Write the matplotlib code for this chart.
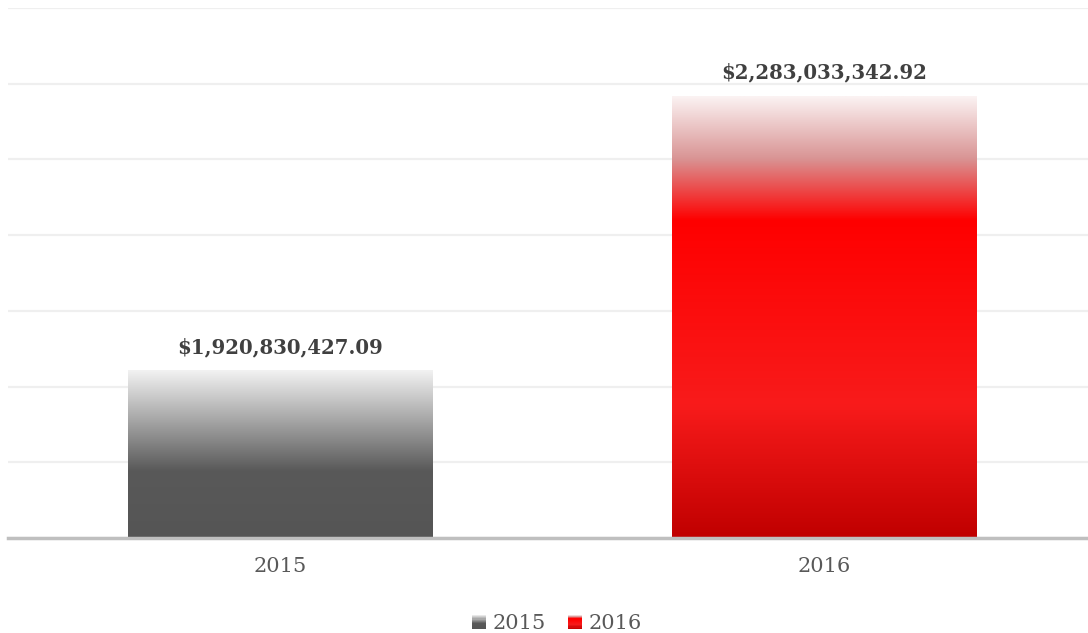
import numpy as np
import matplotlib
matplotlib.use("Agg")
import matplotlib.pyplot as plt
from matplotlib.colors import LinearSegmentedColormap
from matplotlib.legend_handler import HandlerBase
from matplotlib.patches import Rectangle

years = ["2015", "2016"]
totals = [1920830427.09, 2283033342.92]

# gradient stops, top of bar first
gray_stops = [(0.0, "#f2f2f2"), (0.6, "#595959"), (1.0, "#555555")]
red_stops = [(0.0, "#fbf2f2"), (0.14, "#d99494"), (0.28, "#ff0000"),
             (0.7, "#f81b1b"), (1.0, "#c00000")]
cmaps = [LinearSegmentedColormap.from_list("g", gray_stops),
         LinearSegmentedColormap.from_list("r", red_stops)]

plt.rcParams['font.family'] = ['DejaVu Serif']

fig = plt.figure(figsize=(10.88, 6.33), dpi=100)
ax = fig.add_axes([8 / 1088, 95 / 633, 1088 / 1088, 530 / 633])

ax.set_xlim(-0.5, 1.5)
ax.set_ylim(1.7e9, 2.4e9)
ymin = ax.get_ylim()[0]

x = np.arange(len(years))
bars = ax.bar(x, totals, width=0.56, color="none", zorder=3)

# gradient fill for each bar
grad = np.linspace(0, 1, 256).reshape(-1, 1)
for b, cm in zip(bars, cmaps):
    x0, w = b.get_x(), b.get_width()
    top = b.get_y() + b.get_height()
    ax.imshow(grad, cmap=cm, aspect="auto", origin="upper",
              extent=[x0, x0 + w, ymin, top],
              zorder=3, interpolation="bilinear")

ax.set_xlim(-0.5, 1.5)
ax.set_ylim(1.7e9, 2.4e9)
ax.set_yticks(np.arange(1.7e9, 2.41e9, 1e8))
ax.set_yticklabels([])
ax.tick_params(axis="y", length=0)
ax.grid(axis="y", color="#efefef", linewidth=1.6, zorder=0)
ax.set_axisbelow(True)

for s in ["top", "right", "left"]:
    ax.spines[s].set_visible(False)
ax.spines["bottom"].set_color("#bfbfbf")
ax.spines["bottom"].set_linewidth(2.5)
ax.spines["bottom"].set_zorder(5)

ax.set_xticks(x)
ax.set_xticklabels(years, fontsize=15, color="#595959")
ax.tick_params(axis="x", length=0, pad=14)

for xi, v in zip(x, totals):
    ax.annotate("${:,.2f}".format(v), (xi, v), xytext=(0, 10),
                textcoords="offset points", ha="center", va="bottom",
                fontsize=14.2, fontweight="bold", color="#404040")


class GradHandler(HandlerBase):
    def __init__(self, cmap):
        super().__init__()
        self.cmap = cmap

    def create_artists(self, legend, orig_handle, xdescent, ydescent,
                       width, height, fontsize, trans):
        side = min(width, height) * 0.95
        x0 = -xdescent + width - side
        y0 = -ydescent + (height - side) / 2
        n = 12
        arts = []
        for i in range(n):
            r = Rectangle((x0, y0 + side * (n - 1 - i) / n), side, side / n + 0.1,
                          facecolor=self.cmap((i + 0.5) / n), edgecolor="none",
                          transform=trans)
            arts.append(r)
        return arts


handles = [Rectangle((0, 0), 1, 1) for _ in years]
leg = fig.legend(handles, years, loc="lower center", bbox_to_anchor=(0.51, -0.03),
                 ncol=2, frameon=False, fontsize=15, handlelength=0.85,
                 handletextpad=0.3, columnspacing=0.9,
                 handler_map={h: GradHandler(c) for h, c in zip(handles, cmaps)})
for t in leg.get_texts():
    t.set_color("#595959")

fig.savefig("out.png", dpi=100)
